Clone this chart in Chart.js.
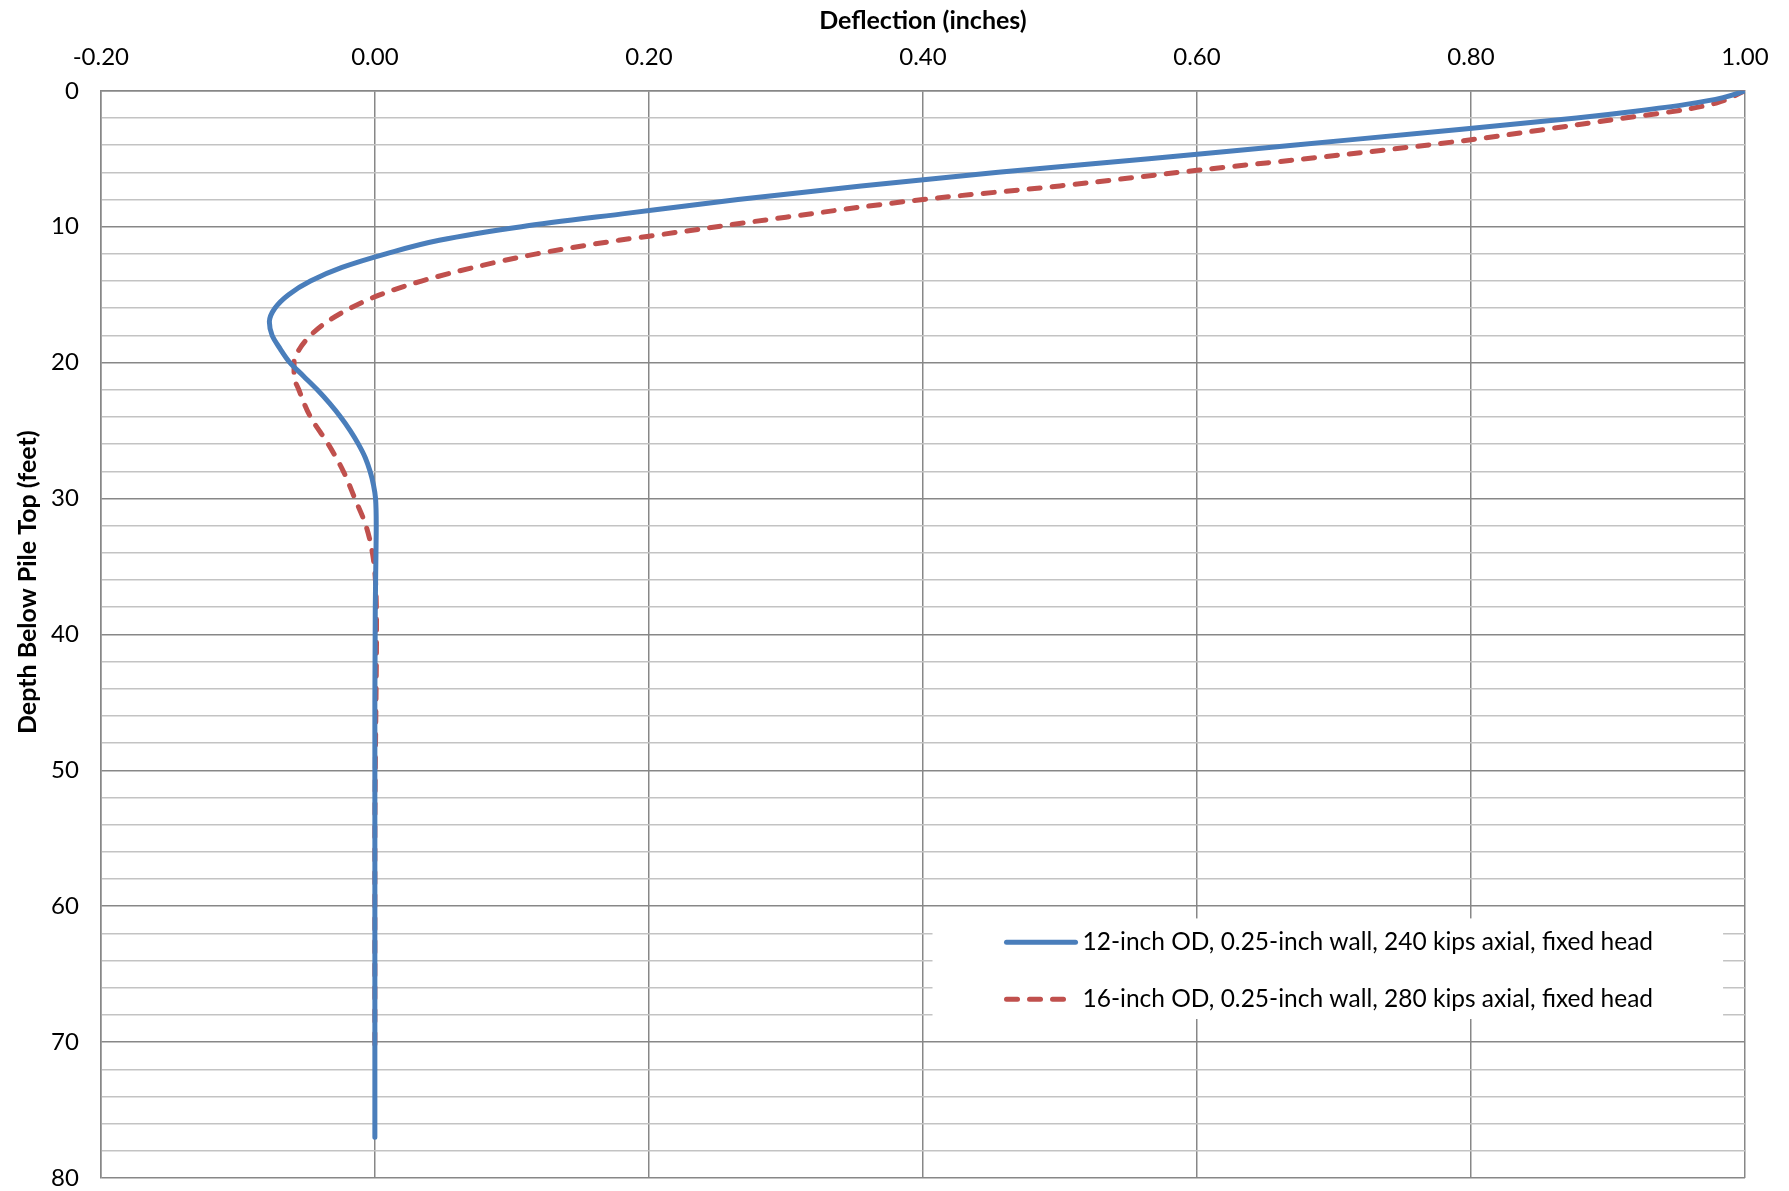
<!DOCTYPE html>
<html>
<head>
    <title>Pile Deflection vs Depth</title>
    <script src="https://cdn.jsdelivr.net/npm/chart.js"></script>
    <style>
        body {
            margin: 0;
            background: #ffffff;
        }
        #chartContainer {
            width: 1789px;
            height: 1191px;
        }
    </style>
</head>
<body>

    <div id="chartContainer">
        <canvas id="deflectionChart" width="1789" height="1191"></canvas>
    </div>

    <script>
        // Depth below pile top (feet) and deflection (inches)
        const depth12 = [0, 0.5, 1, 1.5, 2, 3, 4, 5, 6, 7, 8, 9, 10, 11, 12, 13, 14, 15, 16, 17, 18, 19, 20, 21, 22, 23, 24, 25, 26, 27, 28, 29, 30, 32, 34, 38, 45, 77];
        const defl12 = [1.000, 0.984, 0.957, 0.920, 0.877, 0.776, 0.670, 0.565, 0.455, 0.355, 0.265, 0.185, 0.107, 0.047, 0.008, -0.024, -0.047, -0.063, -0.073, -0.077, -0.075, -0.069, -0.062, -0.052, -0.042, -0.033, -0.025, -0.018, -0.012, -0.007, -0.0035, -0.001, 0.0005, 0.001, 0.0008, 0.0003, 0.000, 0.000];

        const depth16 = [0, 0.9, 1.4, 2.2, 2.9, 3.6, 4.7, 5.85, 7, 8, 9.3, 10.7, 11, 12, 13, 14, 15, 16, 17, 18, 19, 20, 21, 22, 24, 26, 28, 30, 32, 34, 36, 40, 45, 50, 55, 71];
        const defl16 = [1.000, 0.979, 0.955, 0.898, 0.850, 0.800, 0.707, 0.600, 0.500, 0.400, 0.300, 0.200, 0.178, 0.118, 0.072, 0.034, 0.004, -0.018, -0.035, -0.047, -0.055, -0.059, -0.059, -0.0555, -0.047, -0.034, -0.023, -0.0146, -0.0065, -0.0018, 0.0004, 0.0012, 0.0008, 0.0003, 0.000, 0.000];

        const seriesLabels = [
            '12-inch OD, 0.25-inch wall, 240 kips axial, fixed head',
            '16-inch OD, 0.25-inch wall, 280 kips axial, fixed head'
        ];

        const xMin = -0.2, xMax = 1.0, xStep = 0.2;
        const yMin = 0, yMax = 80, yStep = 2, yLabelStep = 10;

        const blue = '#4a7ebb';
        const red = '#c0504d';
        const majorGrid = '#878787';
        const minorGrid = '#c3c3c3';
        const fontFamily = 'Lato, "Open Sans", sans-serif';

        function toPoints(depths, defls) {
            return depths.map((d, i) => ({ x: defls[i], y: d }));
        }

        // Draws the legend box inside the plot and the rotated y-axis title
        const extrasPlugin = {
            id: 'extras',
            afterDatasetsDraw(chart) {
                const ctx = chart.ctx;
                const xs = chart.scales.x;
                const ys = chart.scales.y;
                const left = xs.getPixelForValue(0.407);
                const right = xs.getPixelForValue(0.984);
                const top = ys.getPixelForValue(60.9);
                const bottom = ys.getPixelForValue(68.3);
                ctx.save();
                ctx.fillStyle = '#ffffff';
                ctx.fillRect(left, top, right - left, bottom - top);

                const rows = [ys.getPixelForValue(62.65), ys.getPixelForValue(66.85)];
                const lineStart = left + 74, lineEnd = left + 143;
                ctx.font = '24.5px ' + fontFamily;
                ctx.textBaseline = 'middle';
                ctx.lineCap = 'round';
                ctx.lineWidth = 5;
                // solid sample
                ctx.strokeStyle = blue;
                ctx.setLineDash([]);
                ctx.beginPath();
                ctx.moveTo(lineStart, rows[0]);
                ctx.lineTo(lineEnd, rows[0]);
                ctx.stroke();
                // dashed sample
                ctx.strokeStyle = red;
                ctx.setLineDash([11, 12]);
                ctx.beginPath();
                ctx.moveTo(lineStart, rows[1]);
                ctx.lineTo(lineEnd, rows[1]);
                ctx.stroke();
                ctx.setLineDash([]);

                ctx.fillStyle = '#000000';
                ctx.fillText(seriesLabels[0], lineEnd + 7, rows[0]);
                ctx.fillText(seriesLabels[1], lineEnd + 7, rows[1]);

                // y-axis title
                const area = chart.chartArea;
                ctx.translate(28, area.top + (area.bottom - area.top) * 0.452);
                ctx.rotate(-Math.PI / 2);
                ctx.textAlign = 'center';
                ctx.font = 'bold 25px ' + fontFamily;
                ctx.fillText('Depth Below Pile Top (feet)', 0, 0);
                ctx.restore();
            }
        };

        const lineOptions = {
            showLine: true,
            borderWidth: 5,
            borderCapStyle: 'round',
            pointRadius: 0,
            indexAxis: 'y',
            cubicInterpolationMode: 'monotone',
            fill: false
        };

        const config = {
            type: 'scatter',
            data: {
                datasets: [
                    Object.assign({
                        label: seriesLabels[0],
                        data: toPoints(depth12, defl12),
                        borderColor: blue
                    }, lineOptions),
                    Object.assign({
                        label: seriesLabels[1],
                        data: toPoints(depth16, defl16),
                        borderColor: red,
                        borderDash: [11, 12]
                    }, lineOptions)
                ]
            },
            options: {
                responsive: false,
                animation: false,
                layout: {
                    padding: { left: 29, right: 44, top: 6, bottom: 0 }
                },
                plugins: {
                    legend: { display: false },
                    tooltip: { enabled: false }
                },
                scales: {
                    x: {
                        type: 'linear',
                        position: 'top',
                        min: xMin,
                        max: xMax,
                        ticks: {
                            stepSize: xStep,
                            color: '#000000',
                            font: { family: fontFamily, size: 24 },
                            padding: 19,
                            callback: (v) => (Math.abs(v) < 1e-9 ? 0 : Number(v)).toFixed(2)
                        },
                        grid: {
                            color: majorGrid,
                            lineWidth: 1.5,
                            drawTicks: false
                        },
                        border: { color: majorGrid, width: 1.5 },
                        title: {
                            display: true,
                            text: 'Deflection (inches)',
                            color: '#000000',
                            font: { family: fontFamily, size: 25, weight: 'bold' },
                            padding: { top: 0, bottom: -12 }
                        }
                    },
                    y: {
                        type: 'linear',
                        reverse: true,
                        min: yMin,
                        max: yMax,
                        afterFit: (scale) => {
                            scale.paddingBottom = 13;
                        },
                        ticks: {
                            stepSize: yStep,
                            autoSkip: false,
                            maxTicksLimit: 100,
                            color: '#000000',
                            font: { family: fontFamily, size: 24 },
                            padding: 22,
                            callback: (v) => (v % yLabelStep === 0 ? String(v) : '')
                        },
                        grid: {
                            color: (c) => (c.tick && c.tick.value % yLabelStep === 0 ? majorGrid : minorGrid),
                            lineWidth: 1.5,
                            drawTicks: false
                        },
                        border: { color: majorGrid, width: 1.5 }
                    }
                }
            },
            plugins: [extrasPlugin]
        };

        const ctx = document.getElementById('deflectionChart').getContext('2d');
        const myChart = new Chart(ctx, config);
    </script>
</body>
</html>
